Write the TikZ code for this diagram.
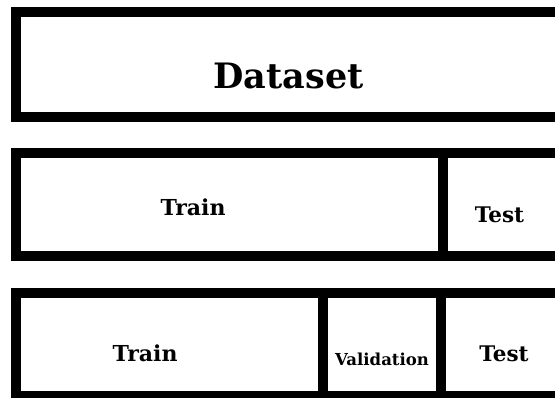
\documentclass[tikz,border=0pt]{standalone}
\usepackage{fontspec}
\setmainfont{DejaVu Serif}
\usepackage{tikz}

\tikzset{
    cell/.style={draw=black, line width=10pt, line join=miter},
    lbl/.style={anchor=base, inner sep=0pt, font=\bfseries},
}

\begin{document}
\begin{tikzpicture}[x=1pt, y=-1pt]
        \useasboundingbox (0,0) rectangle (555,398);
        \clip (0,0) rectangle (555,398);

        \draw [cell] (16,12.5) rectangle (560,116.7);
        \node[lbl, font=\bfseries\fontsize{35}{40}\selectfont] (dataset) at (288.5,88.5) {Dataset};

        \draw [cell] (16,152.7) rectangle (442.7,256);
        \draw [cell] (442.7,152.7) rectangle (560,256);
        \node[lbl, font=\bfseries\fontsize{22}{26}\selectfont] (train1) at (193,216) {Train};
        \node[lbl, font=\bfseries\fontsize{21.5}{26}\selectfont] (test1) at (499.5,222.7) {Test};

        \draw [cell] (16,293) rectangle (322.5,396);
        \draw [cell] (322.5,293) rectangle (440.5,396);
        \draw [cell] (440.5,293) rectangle (560,396);
        \node[lbl, font=\bfseries\fontsize{22}{26}\selectfont] (train2) at (145,362) {Train};
        \node[lbl, font=\bfseries\fontsize{16.5}{20}\selectfont] (valid) at (382,366) {Validation};
        \node[lbl, font=\bfseries\fontsize{21.5}{26}\selectfont] (test2) at (504,362) {Test};
    \end{tikzpicture}
\end{document}
